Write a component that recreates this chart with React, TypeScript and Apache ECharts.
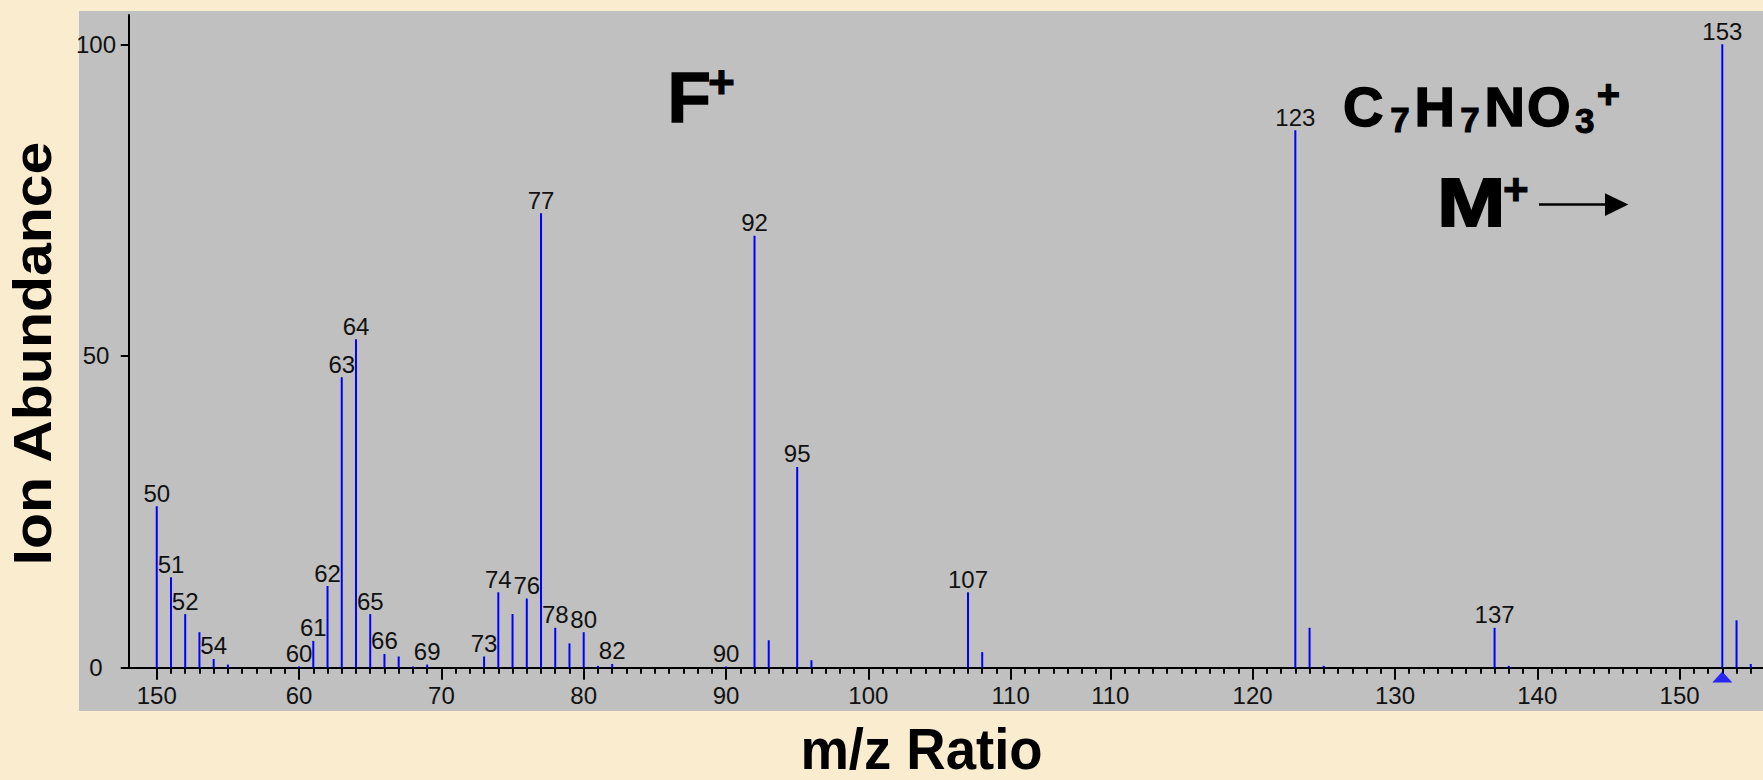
import React, { useEffect, useRef } from "react";
import * as echarts from "echarts";

// ---- Data (m/z ratio vs. relative ion abundance) ----
const mzValues = [
  50, 51, 52, 53, 54, 55, 60, 61, 62, 63, 64, 65, 66, 67, 68, 69, 73, 74, 75, 76,
  77, 78, 79, 80, 81, 82, 90, 92, 93, 95, 96, 107, 108, 123, 124, 125, 137, 138,
  153, 154, 155,
];
const abundances = [
  25.9, 14.5, 8.6, 5.7, 1.4, 0.5, 0.2, 4.3, 13.1, 46.6, 52.7, 8.6, 2.2, 1.8, 0.2,
  0.5, 1.8, 12.1, 8.6, 11.1, 72.9, 6.4, 3.9, 5.7, 0.3, 0.6, 0.2, 69.3, 4.4, 32.2,
  1.2, 12.1, 2.5, 86.2, 6.4, 0.3, 6.4, 0.3, 100, 7.6, 0.6,
];
const labeledPeaks = [
  50, 51, 52, 54, 60, 61, 62, 63, 64, 65, 66, 69, 73, 74, 76, 77, 78, 80, 82, 90,
  92, 95, 107, 123, 137, 153,
];
const molecularIon = 153;

// The original axis is spliced after 110 (a second "110" tick follows 7 units later)
const spliceAfter = 110;
const spliceShift = 7;

// Axis ticks (display units) and the labels printed on them
const xMajorTicks = [50, 60, 70, 80, 90, 100, 110, 117, 127, 137, 147, 157];
const xMajorLabels = ["150", "60", "70", "80", "90", "100", "110", "110", "120", "130", "140", "150"];
const yTicks = [0, 50, 100];
const yTickLabels = ["0", "50", "100"];

const xMin = 48.03;
const xMax = 162.86;
const yMax = 104.7;

const toDisplay = (m: number) => (m > spliceAfter ? m + spliceShift : m);

const FONT = '"Liberation Sans", Arial, Helvetica, sans-serif';

export default function App() {
  const ref = useRef<HTMLDivElement>(null);

  useEffect(() => {
    document.body.style.margin = "0";
    document.body.style.overflow = "hidden";
    if (!ref.current) return;
    const chart = echarts.init(ref.current, null, { renderer: "svg" });

    const minorTicks: number[] = [];
    for (let v = 50; v <= Math.floor(xMax); v++) minorTicks.push(v);

    const barData = mzValues.map((m, i) => ({
      value: [toDisplay(m), abundances[i]],
      label: { show: labeledPeaks.includes(m), formatter: String(m) },
    }));

    const tickLine = { color: "#000", width: 2 };
    const axisText = { fontFamily: FONT, fontSize: 24, color: "#111" };

    const bold = (size: number) => `bold ${size}px ${FONT}`;
    const txt = (
      text: string,
      x: number,
      y: number,
      size: number,
      extra: Record<string, unknown> = {},
      heavy = 0
    ) => ({
      type: "text",
      x,
      y,
      z: 50,
      silent: true,
      ...extra,
      style: {
        text,
        font: bold(size),
        fill: "#000",
        stroke: heavy ? "#000" : undefined,
        lineWidth: heavy,
        align: "center",
        verticalAlign: "middle",
      },
    });

    const option: echarts.EChartsOption = {
      animation: false,
      backgroundColor: "#FAEDCF",
      grid: { left: 128.7, right: 0, top: 15, bottom: 780 - 667.7, containLabel: false },
      xAxis: [
        {
          type: "value",
          min: xMin,
          max: xMax,
          position: "bottom",
          axisLine: { show: true, onZero: false, lineStyle: tickLine },
          axisTick: { show: true, length: 6, customValues: minorTicks, lineStyle: tickLine },
          axisLabel: { show: false },
          splitLine: { show: false },
        } as any,
        {
          type: "value",
          min: xMin,
          max: xMax,
          position: "bottom",
          axisLine: { show: false, onZero: false },
          axisTick: { show: true, length: 12, customValues: xMajorTicks, lineStyle: tickLine },
          axisLabel: {
            show: true,
            customValues: xMajorTicks,
            margin: 16,
            ...axisText,
            formatter: (v: number) => {
              const i = xMajorTicks.indexOf(Math.round(v));
              return i >= 0 ? xMajorLabels[i] : "";
            },
          },
          splitLine: { show: false },
        } as any,
      ],
      yAxis: {
        type: "value",
        min: 0,
        max: yMax,
        axisLine: { show: true, lineStyle: tickLine },
        axisTick: { show: true, length: 8, customValues: yTicks, lineStyle: tickLine },
        axisLabel: {
          show: true,
          customValues: yTicks,
          align: "center",
          margin: 32.7,
          ...axisText,
          formatter: (v: number) => {
            const i = yTicks.indexOf(Math.round(v));
            return i >= 0 ? yTickLabels[i] : "";
          },
        },
        splitLine: { show: false },
      } as any,
      series: [
        {
          type: "bar",
          xAxisIndex: 0,
          barWidth: 2,
          data: barData as any,
          itemStyle: { color: "#0000FF" },
          label: {
            position: "top",
            distance: 1,
            fontFamily: FONT,
            fontSize: 24,
            color: "#111",
          },
          z: 3,
        },
        {
          type: "scatter",
          xAxisIndex: 0,
          clip: false,
          data: [[toDisplay(molecularIon), 0]],
          symbol: "triangle",
          symbolSize: [20, 11],
          symbolOffset: [0, 9.3],
          itemStyle: { color: "#0000FF" },
          z: 5,
        },
      ],
      graphic: [
        {
          type: "rect",
          z: -100,
          silent: true,
          shape: { x: 79, y: 11, width: 1763 - 79, height: 700 },
          style: { fill: "#C0C0C0" },
        },
        txt("Ion Abundance", 32.5, 353.5, 59, { rotation: Math.PI / 2, scaleY: 0.92 }),
        txt("m/z Ratio", 921.5, 749, 58, { scaleX: 0.94 }),
        txt("F", 689.3, 97.2, 71, {}, 1.5),
        txt("+", 721.4, 82, 46, {}, 1),
        txt("C", 1363.3, 106.7, 56, {}, 1.5),
        txt("7", 1400, 119.5, 35, {}, 1),
        txt("H", 1434.8, 106.7, 56, {}, 1.5),
        txt("7", 1470, 119.5, 35, {}, 1),
        txt("N", 1504.8, 106.7, 56, {}, 1.5),
        txt("O", 1548.8, 106.7, 56, {}, 1.5),
        txt("3", 1584.8, 120.5, 35, {}, 1),
        txt("+", 1608.3, 94, 40, {}, 1),
        txt("M", 1471.3, 202.5, 68, { scaleX: 1.2 }, 2),
        txt("+", 1515.8, 189.2, 44, {}, 1),
        {
          type: "line",
          z: 50,
          silent: true,
          shape: { x1: 1539, y1: 204.5, x2: 1608, y2: 204.5 },
          style: { stroke: "#000", lineWidth: 2.5 },
        },
        {
          type: "polygon",
          z: 50,
          silent: true,
          shape: { points: [[1605, 193.3], [1628.3, 204.5], [1605, 216]] },
          style: { fill: "#000" },
        },
      ] as any,
    };

    chart.setOption(option);
    return () => chart.dispose();
  }, []);

  return <div ref={ref} style={{ width: 1763, height: 780 }} />;
}
